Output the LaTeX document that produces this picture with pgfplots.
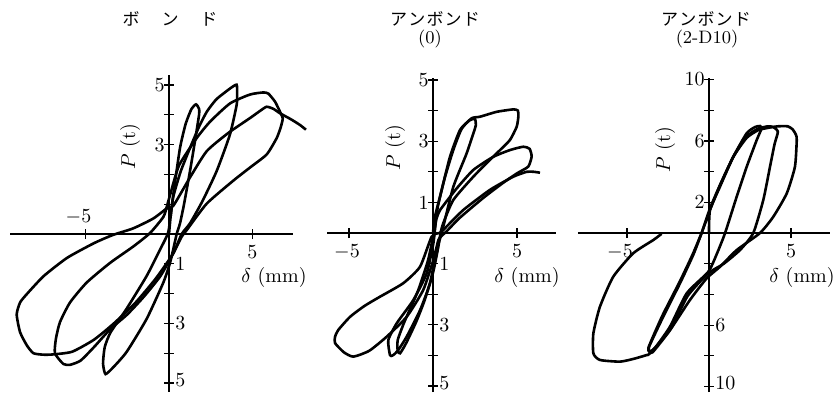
\documentclass[border=0pt]{standalone}
\usepackage{fontspec}
\usepackage{pgfplots}
\pgfplotsset{compat=1.18}
\newfontfamily\cjk{Noto Sans CJK JP}

\pgfplotsset{
  hyst/.style={
    axis lines=middle,
    axis line style={-, line width=0.8pt},
    tick style={black, line width=0.6pt},
    major tick length=5pt, tick align=center,
    xticklabels={}, yticklabels={},
    clip=false, anchor=origin,
  },
  loop/.style={black, line width=1.3pt, smooth, tension=0.35, mark=none},
}
\tikzset{
  yl/.style={anchor=east, inner sep=0.5pt, xshift=-1.5pt},
  yr/.style={anchor=west, inner sep=0.5pt, xshift=2.5pt},
  xb/.style={anchor=north, inner sep=2pt, yshift=-3.5pt},
  ttl/.style={font=\cjk\fontsize{8.5}{9}\selectfont, inner sep=0pt},
  sub/.style={font=\fontsize{9}{10}\selectfont, inner sep=0pt},
}

\begin{document}
\begin{tikzpicture}
\path[use as bounding box] (0,0) rectangle (417pt,196pt);

% ---------------- bonded specimen ----------------
\begin{axis}[hyst, at={(84.5pt,79pt)},
  x=8.35pt, y=14.9pt,
  xmin=-9.5, xmax=7.4, ymin=-5.3, ymax=5.33,
  xtick={-5,5}, ytick={-5,-4,-3,-2,-1,1,2,3,4,5}]
% first cycle
\addplot[loop] coordinates {
 (0,0) (0.1,0.6) (0.3,1.5) (0.66,2.89) (1.0,3.7) (1.35,4.2) (1.62,4.35)
 (1.8,4.2) (1.8,4.0) (1.55,3.1) (1.26,2.12) (0.9,1.0) (0.66,0.36) (0.46,0)
 (0.3,-0.4) (0.06,-0.97) (-0.34,-1.63) (-1.34,-2.85) (-2.53,-3.95)
 (-3.3,-4.45) (-3.8,-4.7) (-3.95,-4.35) (-3.85,-3.8) (-3.5,-3.3)
 (-2.53,-2.5) (-1.34,-1.41) (-0.54,-0.53) (-0.06,0.03) (0.1,0.6)};
% second cycle
\addplot[loop] coordinates {
 (0.1,0.6) (0.25,1.24) (0.7,2.1) (1.26,2.89) (1.8,3.6) (2.26,4.1) (2.8,4.5)
 (3.25,4.71) (3.7,4.9) (4.05,5.01) (4.08,4.7) (4.05,4.33) (3.65,3.34)
 (2.86,2.12) (2.0,1.1) (1.26,0.36) (0.76,0) (0.3,-0.6) (-0.5,-1.4)
 (-1.5,-2.1) (-2.5,-2.7) (-3.53,-3.2) (-4.5,-3.8) (-5.3,-4.25) (-5.93,-4.39)
 (-6.33,-4.36) (-6.83,-4.0) (-6.77,-3.51) (-6.53,-2.96) (-5.93,-2.3)
 (-4.93,-1.63) (-3.53,-0.97) (-2.14,-0.42) (-1.14,0.03) (-0.34,0.57)
 (-0.14,0.9)};
% third cycle
\addplot[loop] coordinates {
 (-0.14,0.9) (0.06,1.3) (0.6,2.3) (1.66,3.22) (2.46,3.77) (3.65,4.38)
 (4.85,4.68) (5.65,4.75) (5.95,4.71) (6.35,4.44) (6.65,4.1) (6.81,3.88)
 (6.7,3.6) (6.45,3.22) (5.85,2.67) (4.85,2.23) (3.85,1.79) (2.26,1.02)
 (1.06,0.13) (0.76,-0.09) (0.2,-0.7) (-0.8,-1.5) (-2.0,-2.3) (-3.3,-3.0)
 (-4.5,-3.55) (-5.8,-3.95) (-6.93,-4.04) (-7.5,-4.05) (-8.12,-4.0)
 (-8.52,-3.73) (-8.92,-3.29) (-9.12,-2.7) (-8.92,-2.3) (-8.52,-2.02)
 (-7.5,-1.41) (-6.1,-0.8) (-4.5,-0.31) (-3.35,-0.03) (-2.14,0.19)
 (-0.94,0.52) (-0.14,0.86)};
% final loading
\addplot[loop] coordinates {
 (-0.14,0.86) (0.26,0.95) (1.26,1.9) (2.26,2.78) (3.55,3.39) (4.85,3.89)
 (5.5,4.15) (5.85,4.27) (6.25,4.2) (6.65,4.05) (7.3,3.85) (7.84,3.66)
 (8.2,3.5)};
\node[yl] at (axis cs:0,5) {5};
\node[yl] at (axis cs:0,3) {3};
\node[yr] at (axis cs:0,-1) {1};
\node[yr] at (axis cs:0,-3) {3};
\node[yr, yshift=1.5pt] at (axis cs:0,-5) {5};
\node[anchor=south, inner sep=2pt, yshift=2.5pt, xshift=-3.5pt] at (axis cs:-5,0) {$-5$};
\node[xb] at (axis cs:5,0) {5};
\end{axis}

% ---------------- unbonded (0) ----------------
\begin{axis}[hyst, at={(216.5pt,79.5pt)},
  x=8.4pt, y=15.3pt,
  xmin=-6.3, xmax=7.3, ymin=-5.2, ymax=5.07,
  xtick={-5,5}, ytick={-5,-4,-3,-2,-1,1,2,3,4,5}]
\addplot[loop] coordinates {
 (0,0) (0.1,0.5) (0.42,1.19) (1.01,2.49) (1.61,3.37) (2.2,3.69) (2.5,3.72)
 (2.55,3.55) (2.5,3.42) (2.0,2.6) (1.21,1.51) (0.61,0.2) (0.52,0)
 (0.22,-0.56) (-0.18,-1.64) (-0.77,-2.52) (-1.57,-3.39) (-2.1,-3.85)
 (-2.4,-4.0) (-2.56,-3.99) (-2.66,-3.5) (-2.16,-2.95) (-1.17,-2.19)
 (-0.38,-1.32) (0.02,-0.34) (0.15,0.3)};
\addplot[loop] coordinates {
 (0.15,0.3) (0.3,0.9) (0.7,1.8) (1.2,2.7) (1.7,3.4) (2.3,3.75) (2.8,3.8)
 (3.79,3.96) (4.78,4.04) (5.05,4.0) (5.08,3.8) (4.98,3.47) (4.58,3.04)
 (3.99,2.71) (3.39,2.39) (2.4,1.84) (1.21,1.08) (0.61,0.32) (0.45,0)
 (0.3,-0.5) (0.0,-1.3) (-0.5,-2.2) (-1.0,-2.9) (-1.6,-3.6) (-1.96,-3.93)
 (-2.1,-3.85) (-2.1,-3.5) (-1.7,-2.9) (-0.9,-1.9) (-0.3,-0.9) (0.05,0.0)
 (0.2,0.45)};
\addplot[loop] coordinates {
 (0.2,0.45) (0.42,0.75) (1.4,1.45) (2.4,2.06) (3.59,2.49) (4.58,2.71)
 (5.38,2.82) (5.75,2.75) (5.87,2.5) (5.67,2.17) (5.0,1.95) (4.2,1.65)
 (3.0,1.15) (1.6,0.5) (0.8,0.05) (0.5,-0.1) (0.32,-0.23) (0.02,-0.88)
 (-0.58,-1.86) (-1.57,-2.74) (-2.76,-3.39) (-3.8,-3.85) (-4.74,-4.04)
 (-5.3,-3.9) (-5.83,-3.6) (-5.83,-3.39) (-5.64,-3.17) (-4.94,-2.74)
 (-4.15,-2.41) (-3.65,-2.24) (-3.15,-2.08) (-1.77,-1.64) (-0.77,-1.1)
 (-0.08,-0.12) (0.4,0)};
\addplot[loop] coordinates {
 (0.4,0) (0.61,0.1) (1.8,0.75) (3.39,1.41) (4.78,1.84) (5.58,2.0)
 (6.0,2.0) (6.37,1.97)};
\node[yl] at (axis cs:0,5) {5};
\node[yl] at (axis cs:0,3) {3};
\node[yl] at (axis cs:0,1) {1};
\node[yr] at (axis cs:0,-1) {1};
\node[yr] at (axis cs:0,-3) {3};
\node[yr, yshift=1.5pt] at (axis cs:0,-5) {5};
\node[xb, xshift=-1pt] at (axis cs:-5,0) {$-5$};
\node[xb] at (axis cs:5,0) {5};
\end{axis}

% ---------------- unbonded (2-D10) ----------------
\begin{axis}[hyst, at={(354.5pt,79.5pt)},
  x=8.2pt, y=7.675pt,
  xmin=-8.0, xmax=7.4, ymin=-10.36, ymax=10.1,
  xtick={-5,5}, ytick={-10,-8,-6,-4,-2,2,4,6,8,10}]
\addplot[loop] coordinates {
 (0,0) (0.06,1.5) (0.67,3.02) (1.48,4.97) (2.3,6.5) (2.8,6.9) (3.11,6.97)
 (3.2,6.8) (2.91,6.06) (2.3,4.32) (1.69,2.37) (0.98,0) (0.5,-1.3)
 (-0.04,-2.52) (-1.36,-3.93) (-2.38,-6.1) (-3.3,-7.5) (-3.6,-7.7)
 (-3.65,-7.4) (-2.79,-5.45) (-1.77,-3.28) (-0.95,-1.4) (-0.45,0)
 (0.06,1.5)};
\addplot[loop] coordinates {
 (0.06,1.5) (0.67,3.1) (1.48,4.95) (2.3,6.3) (3.0,6.8) (3.6,6.95)
 (3.92,6.9) (4.2,6.6) (4.0,5.8) (3.72,4.32) (3.31,2.15) (2.7,0)
 (1.9,-1.1) (0.9,-2.0) (-0.04,-2.62) (-1.3,-4.1) (-2.3,-6.2) (-3.3,-7.6)
 (-3.5,-7.8) (-3.7,-7.5) (-2.85,-5.4) (-1.8,-3.2) (-1.0,-1.4) (-0.45,0)};
\addplot[loop] coordinates {
 (-0.45,0) (0.06,1.6) (0.7,3.2) (1.5,5.0) (2.3,6.2) (3.0,6.7) (3.6,6.85)
 (4.2,6.95) (4.8,6.95) (5.1,6.75) (5.3,6.4) (5.35,6.06) (5.24,4.32)
 (4.74,2.58) (3.92,1.06) (3.11,0) (1.69,-1.11) (0.67,-2.2) (-0.14,-2.95)
 (-1.16,-4.36) (-2.38,-6.32) (-3.6,-7.84) (-3.8,-7.95) (-4.6,-8.2)
 (-5.43,-8.38) (-6.65,-8.27) (-7.05,-7.84) (-7.05,-6.53) (-6.65,-4.8)
 (-5.84,-2.85) (-4.62,-1.32) (-3.4,-0.46) (-2.89,-0.05)};
\node[yl] at (axis cs:0,10) {10};
\node[yl] at (axis cs:0,6) {6};
\node[yl] at (axis cs:0,2) {2};
\node[yr] at (axis cs:0,-6) {6};
\node[yr, yshift=1.5pt] at (axis cs:0,-10) {10};
\node[xb, xshift=-3.5pt] at (axis cs:-5,0) {$-5$};
\node[xb] at (axis cs:5,0) {5};
\end{axis}

% titles and axis names
\node[ttl] at (85pt,186.5pt) {ボ\hspace{11pt}ン\hspace{11pt}ド};
\node[ttl] at (217.5pt,186.75pt) {ア\hspace{0.6pt}ン\hspace{0.6pt}ボ\hspace{0.6pt}ン\hspace{0.6pt}ド};
\node[sub] at (215pt,176.5pt) {(0)};
\node[ttl] at (353pt,186.75pt) {ア\hspace{0.6pt}ン\hspace{0.6pt}ボ\hspace{0.6pt}ン\hspace{0.6pt}ド};
\node[sub] at (353.5pt,176.5pt) {(2-D10)};

\node[rotate=90] at (65pt,122.5pt) {$P$ (t)};
\node[rotate=90] at (197.5pt,122pt) {$P$ (t)};
\node[rotate=90] at (332.5pt,121pt) {$P$ (t)};
\node at (137pt,57.5pt) {$\delta$ (mm)};
\node at (263.5pt,57.5pt) {$\delta$ (mm)};
\node at (401pt,57.5pt) {$\delta$ (mm)};
\end{tikzpicture}
\end{document}
